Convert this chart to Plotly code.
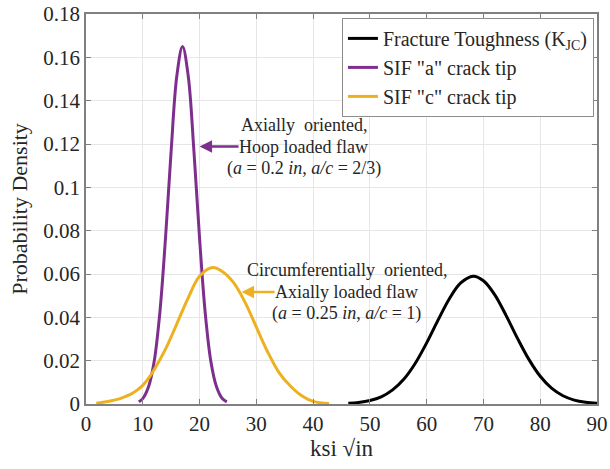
import plotly.graph_objects as go

# ---- data ----
kjc_x = [46.2, 48, 50, 52, 54, 56, 58, 60, 62, 64, 66, 68.2, 70, 72, 74, 76, 78, 80, 82, 84, 86, 88, 90]
kjc_y = [0.0003, 0.0007, 0.0016, 0.0033, 0.0065, 0.0115, 0.0188, 0.0282, 0.0387, 0.0486, 0.0559, 0.0590,
         0.0569, 0.0504, 0.0408, 0.0303, 0.0206, 0.0128, 0.0073, 0.0038, 0.0018, 0.0008, 0.0003]

sifa_x = [9.3, 10, 11, 12, 13, 14, 15, 16, 17, 18, 19, 20, 21, 22, 23, 24, 24.8]
sifa_y = [0.0010, 0.0025, 0.0078, 0.0195, 0.0420, 0.0765, 0.1170, 0.1515, 0.1650, 0.1515, 0.1170,
          0.0765, 0.0420, 0.0195, 0.0078, 0.0025, 0.0010]

sifc_x = [1.8, 3, 4.5, 6, 7, 8, 9, 10, 11, 12, 14, 16, 18, 20, 22.3, 24, 26, 28, 30, 32, 34, 36, 38, 40, 42.8]
sifc_y = [0.0004, 0.0008, 0.0015, 0.0025, 0.0035, 0.0047, 0.0064, 0.0086, 0.0118, 0.0158, 0.0253,
          0.0370, 0.0490, 0.0590, 0.0630, 0.0612, 0.0560, 0.0470, 0.0355, 0.0240, 0.0145, 0.0083,
          0.0038, 0.0012, 0.0002]

series_names = ["Fracture Toughness (K<sub>JC</sub>)", 'SIF "a" crack tip', 'SIF "c" crack tip']
series_colors = ["#000000", "#7E2F8E", "#EDB120"]

x_ticks = [0, 10, 20, 30, 40, 50, 60, 70, 80, 90]
y_ticks = [0, 0.02, 0.04, 0.06, 0.08, 0.1, 0.12, 0.14, 0.16, 0.18]
y_tick_text = ["0", "0.02", "0.04", "0.06", "0.08", "0.1", "0.12", "0.14", "0.16", "0.18"]

# annotation texts (top line, line with arrow, bottom line)
note_a = ["Axially  oriented,", "Hoop loaded flaw", "(<i>a</i> = 0.2 <i>in</i>, <i>a/c</i> = 2/3)"]
note_c = ["Circumferentially  oriented,", "Axially loaded flaw", "(<i>a</i> = 0.25 <i>in</i>, <i>a/c</i> = 1)"]

FONT = "Liberation Serif, Times New Roman, serif"
TXT = "#262626"

fig = go.Figure()
for xs, ys, name, col in zip([kjc_x, sifa_x, sifc_x], [kjc_y, sifa_y, sifc_y], series_names, series_colors):
    fig.add_trace(go.Scatter(x=xs, y=ys, mode="lines", name=name,
                             line=dict(color=col, width=3, shape="spline", smoothing=1.0)))

axis_common = dict(showline=True, linecolor="#808080", linewidth=1.5, mirror="ticks",
                   ticks="inside", ticklen=5, tickcolor="#808080", tickwidth=1,
                   showgrid=True, gridcolor="#e6e6e6", gridwidth=1, zeroline=False,
                   automargin=False,
                   tickfont=dict(family=FONT, size=21, color=TXT))

fig.update_xaxes(range=[0, 90], tickvals=x_ticks,
                 title=dict(text="ksi √in", font=dict(family=FONT, size=23, color=TXT), standoff=4),
                 **axis_common)
fig.update_yaxes(range=[0, 0.18], tickvals=y_ticks, ticktext=y_tick_text,
                 title=dict(text="Probability Density", font=dict(family=FONT, size=22, color=TXT), standoff=10),
                 **axis_common)

NFONT = dict(family=FONT, size=18, color=TXT)


def add_note(lines, tip_x, tip_y, dy, center_off, color):
    # line with arrow: arrow tip at the curve, text offset to the right
    fig.add_annotation(x=tip_x, y=tip_y, xref="x", yref="y", text=lines[1],
                       ax=center_off, ay=0, showarrow=True, arrowhead=2, arrowsize=1,
                       arrowwidth=2.5, arrowcolor=color, font=NFONT,
                       xanchor="center", yanchor="middle", borderpad=0)
    fig.add_annotation(x=tip_x, y=tip_y, xref="x", yref="y", text=lines[0],
                       showarrow=False, font=NFONT, xanchor="center", yanchor="middle",
                       xshift=center_off, yshift=dy)
    fig.add_annotation(x=tip_x, y=tip_y, xref="x", yref="y", text=lines[2],
                       showarrow=False, font=NFONT, xanchor="center", yanchor="middle",
                       xshift=center_off, yshift=-dy)


add_note(note_a, 20.0, 0.1188, 22, 104, "#7E2F8E")
add_note(note_c, 27.4, 0.0517, 22, 105, "#EDB120")

fig.update_layout(
    width=610, height=469,
    margin=dict(l=86, r=13, t=14, b=65),
    paper_bgcolor="white", plot_bgcolor="white",
    font=dict(family=FONT, color=TXT),
    legend=dict(x=0.994, y=0.99, xanchor="right", yanchor="top",
                bgcolor="white", bordercolor="#8c8c8c", borderwidth=1,
                font=dict(family=FONT, size=20, color=TXT),
                tracegroupgap=0, itemwidth=30),
)

fig.write_html("out.html")
